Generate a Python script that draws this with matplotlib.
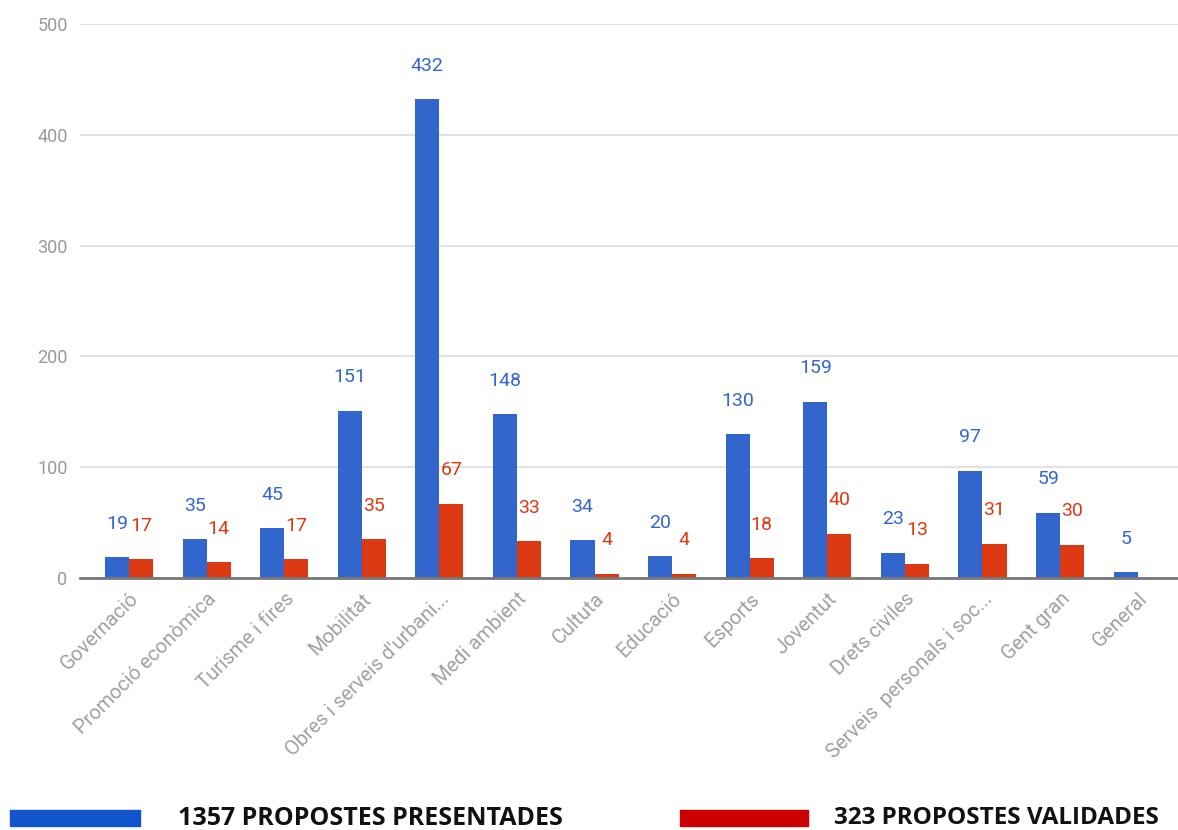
"""Propostes presentades i validades per àmbit"""

import matplotlib
matplotlib.use("Agg")
import matplotlib.pyplot as plt
from matplotlib.patches import Rectangle
import numpy as np

categories = [
    "Governació", "Promoció econòmica", "Turisme i fires", "Mobilitat",
    "Obres i serveis d'urbani...", "Medi ambient", "Cultuta", "Educació",
    "Esports", "Joventut", "Drets civiles", "Serveis  personals i soc...",
    "Gent gran", "General",
]
presentades = [19, 35, 45, 151, 432, 148, 34, 20, 130, 159, 23, 97, 59, 5]
validades = [17, 14, 17, 35, 67, 33, 4, 4, 18, 40, 13, 31, 30, 0]
label_presentades = "1357 PROPOSTES PRESENTADES"
label_validades = "323 PROPOSTES VALIDADES"

BLUE = "#3366cc"
RED = "#dc3912"


def main():
    plt.rcParams["font.family"] = ["Roboto", "DejaVu Sans"]

    fig = plt.figure(figsize=(11.78, 8.3), dpi=100)
    ax = fig.add_axes([0.068, 0.3036, 0.932, 0.6675])

    x = np.arange(len(categories))
    w = 0.31
    ax.bar(x - w / 2, presentades, w, color=BLUE, zorder=3)
    ax.bar(x + w / 2, validades, w, color=RED, zorder=3)

    for xi, v in zip(x, presentades):
        ax.annotate(str(v), (xi - w / 2, v), xytext=(0, 24), textcoords="offset points",
                    ha="center", va="center", color=BLUE, fontsize=14)
    for xi, v in zip(x, validades):
        if v > 0:
            ax.annotate(str(v), (xi + w / 2, v), xytext=(0, 24), textcoords="offset points",
                        ha="center", va="center", color=RED, fontsize=14)

    ax.set_ylim(0, 500)
    ax.set_xlim(-0.63, 13.52)
    ax.set_yticks([0, 100, 200, 300, 400, 500])
    ax.yaxis.grid(True, color="#dddddd", linewidth=1.2, zorder=0)
    ax.set_axisbelow(True)
    for s in ["top", "right", "left"]:
        ax.spines[s].set_visible(False)
    ax.spines["bottom"].set_color("#777777")
    ax.spines["bottom"].set_linewidth(2)
    ax.spines["bottom"].set_zorder(4)
    ax.tick_params(axis="y", length=0, labelsize=13, labelcolor="#999999", pad=9)
    ax.tick_params(axis="x", length=0, labelsize=14.5, labelcolor="#a0a0a0", pad=8)
    ax.set_xticks(x)
    ax.set_xticklabels(categories, rotation=45, ha="right", rotation_mode="anchor")

    # legend along the bottom
    W, H = 1178, 830
    fig.add_artist(Rectangle((10 / W, 1 - 826 / H), 130 / W, 16 / H,
                             transform=fig.transFigure, color="#1155cc"))
    fig.add_artist(Rectangle((680 / W, 1 - 826 / H), 128 / W, 16 / H,
                             transform=fig.transFigure, color="#cc0000"))
    fig.text(178 / W, 1 - 818 / H, label_presentades, fontsize=18, fontweight="bold",
             family=["Open Sans", "DejaVu Sans"], va="center", ha="left", color="#111111")
    fig.text(834 / W, 1 - 818 / H, label_validades, fontsize=17.5, fontweight="bold",
             family=["Open Sans", "DejaVu Sans"], va="center", ha="left", color="#111111")

    fig.savefig("out.png", dpi=100)


if __name__ == "__main__":
    main()
